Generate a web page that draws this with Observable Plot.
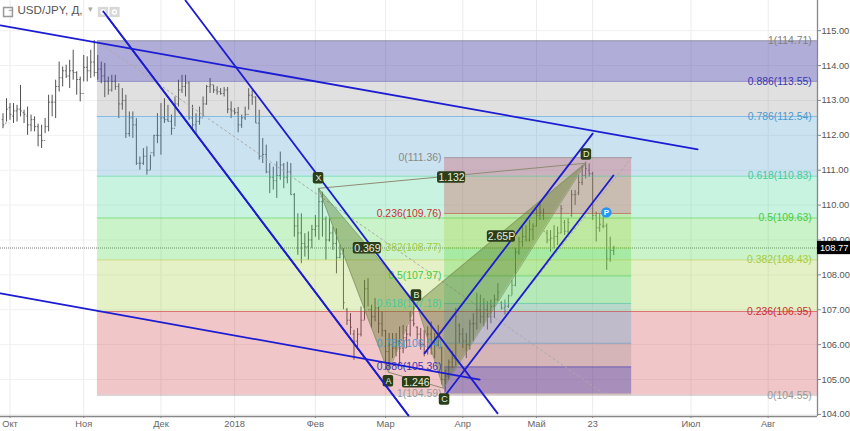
<!DOCTYPE html>
<html>
<head>
<meta charset="utf-8">
<script src="https://cdn.jsdelivr.net/npm/d3@7"></script>
<script src="https://cdn.jsdelivr.net/npm/@observablehq/plot@0.6"></script>
<style>
html,body{margin:0;padding:0;background:#fff;overflow:hidden}
svg{display:block}
</style>
</head>
<body>
<div id="chart"></div>
<script>
const firstBar = -1;
const highs = [
112.62,113.05,112.91,112.91,112.86,113.43,112.72,112.81,112.58,112.53,
112.32,112.29,112.48,113.15,113.15,113.58,114.10,113.96,114.01,114.15,
114.44,113.82,113.67,114.29,114.25,114.44,114.72,114.29,114.10,114.06,
113.67,113.72,113.72,113.48,113.34,113.15,112.67,112.67,112.48,111.38,
111.62,111.67,111.43,112.00,112.62,112.91,113.05,112.86,112.58,113.10,
113.58,113.72,113.72,113.53,112.86,112.62,112.81,113.10,113.43,113.63,
113.43,113.39,113.34,113.37,113.37,112.96,112.77,112.80,112.58,112.81,
113.34,113.29,113.10,112.72,111.91,111.72,111.19,111.09,111.24,111.52,
111.19,111.23,111.19,110.33,109.75,109.75,109.18,109.23,109.42,109.70,
110.47,110.37,109.66,109.61,109.37,109.32,108.85,108.75,107.04,106.89,
106.41,106.46,107.08,107.84,107.89,107.13,107.32,107.08,106.94,106.41,
106.32,106.32,106.32,106.51,106.55,106.51,106.94,107.18,106.51,106.46,
106.41,106.51,106.65,106.32,106.55,105.93,105.27,105.56,105.80,107.04,
106.60,106.46,106.32,106.70,106.89,107.47,107.42,107.32,107.23,107.28,
107.42,107.75,107.23,107.28,107.42,107.84,108.76,109.08,109.37,109.41,
109.56,109.46,109.89,110.04,109.89,109.27,109.27,109.41,109.37,109.99,
109.56,109.61,110.42,110.42,110.85,111.13,111.23,111.18,110.94,109.80,
109.75,109.70,109.46,109.08,108.82];
const lows = [
112.19,112.38,112.43,112.34,112.38,112.53,112.34,112.00,112.10,112.10,
111.67,111.62,112.05,112.10,112.53,112.48,113.24,113.39,113.63,113.34,
113.58,113.15,112.96,113.53,113.53,113.63,113.67,113.58,113.48,113.08,
113.15,113.24,113.29,112.48,112.72,111.91,111.95,111.91,111.14,111.00,
111.14,110.86,111.00,111.38,111.76,111.43,112.34,112.38,112.00,112.24,
112.81,113.20,113.10,112.43,112.10,112.05,112.29,112.53,112.86,113.20,
113.20,113.15,113.15,113.10,112.62,112.48,112.58,112.07,112.20,112.43,
112.72,112.86,112.34,111.29,111.19,110.90,110.33,110.43,110.19,110.71,
110.47,110.61,110.28,109.08,108.56,108.32,108.51,108.42,108.75,109.08,
108.99,109.08,108.42,108.94,108.70,108.03,108.46,107.00,106.55,106.27,
105.55,105.89,106.22,106.70,107.08,106.46,106.65,106.32,106.22,105.26,
105.30,105.60,105.65,105.41,105.74,105.89,106.22,106.51,106.13,105.84,
105.65,105.70,105.70,105.60,105.93,104.84,104.64,104.98,105.32,105.37,
106.03,105.89,105.60,105.84,106.08,106.42,106.60,106.51,106.42,106.60,
106.75,107.23,106.99,106.85,107.04,107.40,107.66,108.56,108.79,108.94,
108.94,108.98,109.37,109.56,109.56,108.89,108.65,108.75,108.84,109.18,
109.13,109.18,109.65,109.99,110.27,110.56,110.75,110.80,109.56,108.94,
109.22,109.32,108.13,108.36,108.55];
const opens = [
112.45,112.35,112.80,112.55,112.70,112.75,112.65,112.55,112.30,112.45,
112.25,112.00,111.85,112.25,112.95,112.95,113.40,113.65,113.85,113.70,
113.85,113.80,113.60,113.20,113.95,113.85,114.10,113.80,113.90,113.70,
113.55,113.30,113.55,113.40,112.90,113.00,112.05,112.50,112.30,111.20,
111.20,111.40,111.00,111.50,112.00,112.00,112.50,112.45,112.40,112.20,
112.90,113.30,113.40,113.50,112.50,112.30,112.40,112.50,112.90,113.40,
113.45,113.30,113.25,113.20,113.30,112.75,112.70,112.65,112.30,112.50,
112.60,113.15,113.10,112.35,111.40,111.45,110.95,110.80,110.70,110.85,
111.15,110.80,110.95,110.30,109.40,109.20,108.90,108.80,109.00,109.30,
109.40,110.10,109.60,109.00,109.20,108.90,108.50,108.60,107.00,106.70,
106.30,106.10,106.30,106.70,107.60,107.00,106.80,107.05,106.60,106.40,
105.80,106.00,105.90,106.10,105.90,106.20,106.30,106.70,106.50,106.30,
106.00,105.80,106.30,106.10,106.00,105.90,105.00,105.10,105.50,105.60,
106.55,106.30,106.10,106.00,106.60,106.60,107.00,106.80,107.00,106.80,
107.10,107.30,107.20,107.05,107.10,107.40,107.70,108.65,108.95,109.10,
109.00,109.30,109.40,109.70,109.70,109.20,109.00,109.05,109.10,109.20,
109.50,109.25,109.70,110.30,110.35,110.65,110.85,111.00,110.90,109.70,
109.35,109.40,109.40,108.45,108.70];
const closes = [
112.30,112.75,112.60,112.70,112.75,112.70,112.60,112.30,112.45,112.25,
112.00,111.85,112.25,112.95,112.95,113.40,113.65,113.85,113.70,113.85,
113.80,113.60,113.20,113.95,113.85,114.10,113.80,113.90,113.70,113.55,
113.30,113.55,113.40,112.90,113.00,112.05,112.50,112.30,111.20,111.20,
111.40,111.00,111.50,112.00,112.00,112.50,112.45,112.40,112.20,112.90,
113.30,113.40,113.50,112.50,112.30,112.40,112.50,112.90,113.40,113.45,
113.30,113.25,113.20,113.30,112.75,112.70,112.65,112.30,112.50,112.60,
113.15,113.10,112.35,111.40,111.45,110.95,110.80,110.70,110.85,111.15,
110.80,110.95,110.30,109.40,109.20,108.90,108.80,109.00,109.30,109.40,
110.10,109.60,109.00,109.20,108.90,108.50,108.60,107.20,106.70,106.50,
106.10,106.30,106.70,107.60,107.00,106.80,107.05,106.60,106.40,105.80,
106.00,105.90,106.10,105.90,106.20,106.30,106.70,106.60,106.30,106.00,
105.80,106.30,106.10,106.00,105.90,105.00,105.10,105.50,105.60,106.80,
106.30,106.10,106.00,106.60,106.60,107.00,106.80,107.00,106.80,107.10,
107.30,107.50,107.05,107.10,107.40,107.70,108.65,108.95,109.10,109.00,
109.30,109.40,109.70,109.80,109.25,109.00,109.05,109.10,109.20,109.90,
109.25,109.50,110.30,110.30,110.65,110.85,111.05,110.90,109.70,109.35,
109.45,109.40,108.45,108.70,108.77];

const xTickBars = [1,22,44,65,88,108,130,151,167,195,217];
const xTickLabels = ["Окт","Ноя","Дек","2018","Фев","Мар","Апр","Май","23","Июл","Авг"];
const yTicks = [104,105,106,107,108,109,110,111,112,113,114,115];
const lastPrice = 108.77;

// big retracement, right side
const fibARatios = ["1","0.886","0.786","0.618","0.5","0.382","0.236","0"];
const fibAPrices = [114.71,113.55,112.54,110.83,109.63,108.43,106.95,104.55];
const fibABars = [25.9,231.05];
// small retracement, inside
const fibBRatios = ["0","0.236","0.382","0.5","0.618","0.786","0.886","1"];
const fibBPrices = [111.36,109.76,108.77,107.97,107.18,106.04,105.36,104.59];
const fibBBars = [124.8,178.1];

const fibAFill = ["#5049a9","#848484","#52a2d0","#48d798","#52d74b","#a5d041","#cd4148"];
const fibAFillOpacity = [.45,.25,.3,.3,.3,.3,.3];
const fibAText = ["#808080","#3c37b0","#4a9ad0","#45c9a0","#45cc45","#a5cc40","#c83030","#999999"];
const fibBFill = ["#cd4148","#a5d041","#52d74b","#48d798","#52a2d0","#848484","#5049a9"];
const fibBFillOpacity = [.3,.3,.3,.3,.3,.25,.45];
const fibBText = ["#888888","#c83030","#a5cc40","#45cc45","#45c9a0","#4a9ad0","#3c37b0","#999999"];

// trend lines: bar, price pairs
const trendLines = [
  [[-1.71,115.15],[196.9,111.6]],
  [[27.6,115.55],[114.5,103.97]],
  [[51,115.865],[139.9,104.03]],
  [[-1.71,107.47],[134.8,105.0]],
  [[119.1,105.75],[167,112.05]],
  [[125.4,104.6],[172.9,110.85]]
];
const fibDiagonals = [
  [[25.9,114.69],[170.1,104.6]],
  [[124.8,104.58],[178.1,111.37]]
];

const patternNames = ["X","A","B","C","D"];
const patternBars = [88.9,108.8,116.8,124.5,165];
const patternPrices = [110.48,105.21,107.18,104.75,111.2];
const patternBadgeBars = [88.9,108.8,116.8,124.8,165.2];
const patternBadgePrices = [110.77,104.95,107.41,104.43,111.45];

const ratioLabels = ["0.369","1.246","2.65P","1.132"];
const ratioBars = [102.8,116.8,141,126.8];
const ratioPrices = [108.76,104.92,109.1,110.79];

const pBar = 170.9, pPrice = 109.79;
const yDomain = [103.94,115.865];
const xDomain = [-1.71,231.05];

const bars = highs.map((h,k)=>({bar:firstBar+k,h,l:lows[k],o:opens[k],c:closes[k]}));
const pts = patternNames.map((n,k)=>({n,x:patternBars[k],y:patternPrices[k]}));
function tri(p,q,r){
  const mid = p.y+(r.y-p.y)*(q.x-p.x)/(r.x-p.x);
  return [{x:p.x,y1:p.y,y2:p.y},{x:q.x,y1:q.y,y2:mid},{x:r.x,y1:r.y,y2:r.y}];
}
const triangles = [[pts[0],pts[1],pts[2]],[pts[2],pts[3],pts[4]]];
const bandsOf = (prices,xs,fills,ops)=>fills.map((f,k)=>({x1:xs[0],x2:xs[1],y1:prices[k],y2:prices[k+1],f,op:ops[k]}));
const levelsOf = (prices,ratios,colors)=>prices.map((p,k)=>({p,t:`${ratios[k]}(${p.toFixed(2)})`,col:colors[k]}));
const bandsA = bandsOf(fibAPrices,fibABars,fibAFill,fibAFillOpacity);
const bandsB = bandsOf(fibBPrices,fibBBars,fibBFill,fibBFillOpacity);
const levelsA = levelsOf(fibAPrices,fibARatios,fibAText);
const levelsB = levelsOf(fibBPrices,fibBRatios,fibBText);

const chart = Plot.plot({
  width:850,height:431,
  marginLeft:0,marginRight:33,marginTop:0,marginBottom:15,
  style:{fontFamily:"Liberation Sans, Arial, sans-serif",background:"#fff",overflow:"visible"},
  x:{domain:xDomain,range:[0,817]},
  y:{domain:yDomain,range:[416,0]},
  marks:[
    Plot.gridX(xTickBars,{stroke:"#ececec",strokeOpacity:1}),
    Plot.gridY(yTicks,{stroke:"#f1f1f1",strokeOpacity:1}),
    Plot.ruleY([lastPrice],{stroke:"#777",strokeWidth:1,strokeDasharray:"1 1"}),

    Plot.ruleX(bars,{x:"bar",y1:"l",y2:"h",stroke:"#505050",strokeWidth:1}),
    Plot.link(bars,{x1:d=>d.bar-.38,x2:"bar",y1:"o",y2:"o",stroke:"#505050",strokeWidth:.8}),
    Plot.link(bars,{x1:"bar",x2:d=>d.bar+.38,y1:"c",y2:"c",stroke:"#505050",strokeWidth:.8}),

    Plot.rect(bandsA,{x1:"x1",x2:"x2",y1:"y1",y2:"y2",fill:"f",fillOpacity:"op"}),
    Plot.rect(bandsB,{x1:"x1",x2:"x2",y1:"y1",y2:"y2",fill:"f",fillOpacity:"op"}),
    Plot.ruleY(levelsA,{y:"p",x1:fibABars[0],x2:fibABars[1],stroke:"col",strokeOpacity:.55,strokeWidth:1}),
    Plot.ruleY(levelsB,{y:"p",x1:fibBBars[0],x2:fibBBars[1],stroke:"col",strokeOpacity:.55,strokeWidth:1}),
    ...fibDiagonals.map(l=>Plot.line(l,{x:d=>d[0],y:d=>d[1],stroke:"#aaa",strokeWidth:1,strokeDasharray:"2 3"})),

    ...triangles.map(t=>Plot.areaY(tri(...t),{x:"x",y1:"y1",y2:"y2",fill:"#55741f",fillOpacity:.38})),
    ...triangles.map(t=>Plot.line([t[0],t[1],t[2],t[0]],{x:"x",y:"y",stroke:"#7d8f60",strokeWidth:1,strokeOpacity:.7})),
    Plot.line([pts[0],pts[4]],{x:"x",y:"y",stroke:"#8f8a72",strokeWidth:1}),
    Plot.line([pts[1],pts[3]],{x:"x",y:"y",stroke:"#8f8a72",strokeWidth:1}),

    Plot.text(levelsA,{x:229.4,y:"p",text:"t",fill:"col",textAnchor:"end",fontSize:10.4,fontWeight:500}),
    Plot.text(levelsB,{x:123.9,y:"p",text:"t",fill:"col",textAnchor:"end",fontSize:10.4,fontWeight:500}),

    ...trendLines.map(l=>Plot.line(l,{x:d=>d[0],y:d=>d[1],stroke:"#1c1cd2",strokeWidth:1.8})),

    Plot.rect(ratioLabels,{x1:(d,k)=>ratioBars[k]-4,x2:(d,k)=>ratioBars[k]+4,y1:(d,k)=>ratioPrices[k]-.165,y2:(d,k)=>ratioPrices[k]+.165,fill:"#2c3d1a",rx:2}),
    Plot.text(ratioLabels,{x:(d,k)=>ratioBars[k],y:(d,k)=>ratioPrices[k],text:d=>d,fill:"#e6efda",fontSize:10.5}),
    Plot.rect(patternNames,{x1:(d,k)=>patternBadgeBars[k]-1.5,x2:(d,k)=>patternBadgeBars[k]+1.5,y1:(d,k)=>patternBadgePrices[k]-.165,y2:(d,k)=>patternBadgePrices[k]+.165,fill:"#2c3d1a",rx:2}),
    Plot.text(patternNames,{x:(d,k)=>patternBadgeBars[k],y:(d,k)=>patternBadgePrices[k],text:d=>d,fill:"#e6efda",fontSize:9}),
    Plot.dot([pBar],{x:d=>d,y:pPrice,r:5.2,fill:"#2196f3"}),
    Plot.text(["P"],{x:pBar,y:pPrice,text:d=>d,fill:"#fff",fontSize:8,fontWeight:700}),

    Plot.ruleX([xDomain[1]],{stroke:"#888",strokeWidth:1.3}),
    Plot.ruleY([yDomain[0]],{stroke:"#888",strokeWidth:1.3}),
    Plot.axisY({anchor:"right",ticks:yTicks,tickFormat:d3.format(".2f"),tickSize:3,tickPadding:1,stroke:"#888",fill:"#555",fontSize:9.3,label:null}),
    Plot.axisX({anchor:"bottom",ticks:xTickBars,tickFormat:d=>xTickLabels[xTickBars.indexOf(d)],tickSize:2,tickPadding:2,stroke:"#888",fill:"#666",fontSize:9.3,label:null}),

    Plot.rect([lastPrice],{x1:xDomain[1],x2:240.5,y1:d=>d-.19,y2:d=>d+.19,fill:"#000"}),
    Plot.text([lastPrice],{x:235.8,y:d=>d,text:d=>d.toFixed(2),fill:"#fff",fontSize:9.3}),

    Plot.text(["USD/JPY, Д,"],{frameAnchor:"top-left",dx:17,dy:5,text:d=>d,fill:"#555",fontSize:11.6,lineAnchor:"top"}),
    Plot.dot([0],{frameAnchor:"top-left",dx:7.5,dy:11.5,symbol:"square",r:5,fill:"none",stroke:"#999"}),
    Plot.text(["−"],{frameAnchor:"top-left",dx:7.5,dy:6.5,text:d=>d,fill:"#888",fontSize:9,lineAnchor:"top"}),
    Plot.text(["▾"],{frameAnchor:"top-left",dx:87,dy:5,text:d=>d,fill:"#aaa",fontSize:9,lineAnchor:"top"}),
    Plot.dot([0],{frameAnchor:"top-left",dx:102.5,dy:11.5,symbol:"square",r:5.8,fill:"#d8d8d8"}),
    Plot.dot([0],{frameAnchor:"top-left",dx:114,dy:11.5,symbol:"square",r:5.8,fill:"#d8d8d8"}),
    Plot.dot([0],{frameAnchor:"top-left",dx:102.5,dy:11.5,r:2,fill:"none",stroke:"#fff"}),
    Plot.dot([0],{frameAnchor:"top-left",dx:114,dy:11.5,r:2,fill:"none",stroke:"#fff"}),
    // first channel line starts on the toolbar icon, so it is redrawn above it
    Plot.line([trendLines[1][0],trendLines[1][1]],{x:d=>d[0],y:d=>d[1],stroke:"#1c1cd2",strokeWidth:1.8})
  ]
});
document.getElementById("chart").appendChild(chart);
</script>
</body>
</html>
